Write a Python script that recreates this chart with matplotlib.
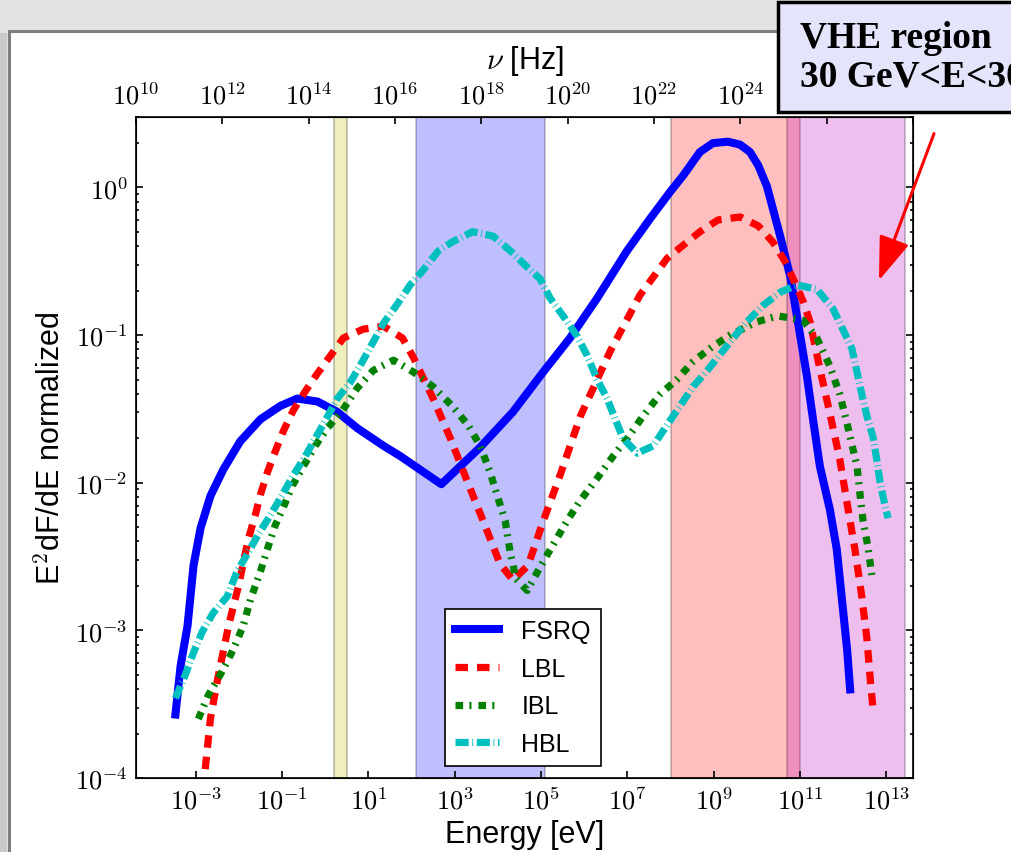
import numpy as np
import matplotlib
matplotlib.use('Agg')
import matplotlib.pyplot as plt
from matplotlib.patches import Rectangle, FancyArrowPatch
from matplotlib.ticker import FixedLocator, NullLocator, LogLocator, FuncFormatter

plt.rcParams['font.family'] = ['Liberation Sans', 'DejaVu Sans']
plt.rcParams['mathtext.fontset'] = 'cm'
plt.rcParams['lines.scale_dashes'] = False

H_EV = 4.135667e-15  # Planck constant [eV s]

# blazar SEDs: log10(E/eV), log10(E^2 dF/dE)
fsrq_logE = [-3.47, -3.35, -3.19, -3.05, -2.89, -2.66, -2.36, -1.97, -1.50, -1.04, -0.65,
             -0.18, 0.28, 0.74, 1.35, 1.74, 2.69, 3.59, 4.35, 5.05, 5.67, 6.30, 6.99, 7.53,
             7.99, 8.29, 8.68, 8.98, 9.33, 9.61, 9.84, 10.03, 10.23, 10.54, 10.77, 10.95, 11.16,
             11.30, 11.46, 11.69, 11.85, 11.97, 12.09, 12.16]
fsrq_logF = [-3.57, -3.24, -2.97, -2.56, -2.31, -2.09, -1.91, -1.72, -1.57, -1.48, -1.43,
             -1.45, -1.52, -1.63, -1.75, -1.82, -2.01, -1.76, -1.52, -1.25, -1.02, -0.75, -0.43, -0.21,
             -0.03, 0.08, 0.24, 0.30, 0.31, 0.29, 0.24, 0.15, 0.01, -0.33, -0.60, -0.91, -1.28,
             -1.57, -1.89, -2.18, -2.45, -2.79, -3.13, -3.40]

lbl_logE = [-2.78, -2.66, -2.48, -2.24, -2.01, -1.78, -1.62, -1.50, -1.34, -1.16, -0.97,
            -0.74, -0.46, -0.18, 0.12, 0.42, 0.88, 1.35, 1.79, 2.04, 2.50, 2.90, 3.29, 3.66,
            4.05, 4.35, 4.70, 5.05, 5.44, 5.91, 6.60, 7.29, 7.92, 8.68, 9.10, 9.61, 10.03,
            10.37, 10.65, 10.84, 11.07, 11.23, 11.46, 11.69, 11.92, 12.09, 12.27, 12.43, 12.55,
            12.64, 12.69]
lbl_logF = [-3.94, -3.60, -3.31, -2.97, -2.70, -2.38, -2.22, -2.08, -1.93, -1.79, -1.65,
            -1.51, -1.38, -1.26, -1.14, -1.02, -0.96, -0.94, -1.02, -1.15, -1.43, -1.70, -1.99, -2.26,
            -2.55, -2.66, -2.56, -2.26, -1.95, -1.55, -1.11, -0.73, -0.48, -0.30, -0.22, -0.20, -0.26,
            -0.37, -0.50, -0.62, -0.77, -0.91, -1.23, -1.53, -1.84, -2.14, -2.45, -2.77, -3.06,
            -3.38, -3.53]

ibl_logE = [-2.94, -2.71, -2.43, -2.13, -1.90, -1.73, -1.50, -1.34, -1.16, -0.99, -0.76,
            -0.51, -0.23, 0.05, 0.40, 0.74, 1.11, 1.58, 2.04, 2.50, 2.94, 3.31, 3.59, 3.82,
            4.01, 4.17, 4.29, 4.42, 4.68, 4.98, 5.26, 5.60, 5.91, 6.30, 6.67, 7.02, 7.36,
            7.76, 8.15, 8.52, 8.96, 9.38, 10.00, 10.49, 11.07, 11.39, 11.69, 11.92, 12.09,
            12.20, 12.32, 12.39, 12.46, 12.57, 12.67]
ibl_logF = [-3.60, -3.44, -3.30, -3.13, -2.97, -2.79, -2.60, -2.45, -2.29, -2.18, -2.02,
            -1.89, -1.75, -1.63, -1.51, -1.36, -1.24, -1.17, -1.25, -1.35, -1.48, -1.61, -1.75, -1.93,
            -2.11, -2.26, -2.48, -2.65, -2.73, -2.57, -2.43, -2.26, -2.12, -1.97, -1.82, -1.69, -1.55,
            -1.40, -1.30, -1.18, -1.08, -1.00, -0.91, -0.87, -0.90, -1.02, -1.21, -1.40, -1.60,
            -1.74, -1.89, -2.08, -2.26, -2.43, -2.64]

hbl_logE = [-3.47, -3.24, -3.05, -2.85, -2.59, -2.27, -2.04, -1.80, -1.55, -1.27, -0.99,
            -0.74, -0.46, -0.23, 0.00, 0.28, 0.58, 0.88, 1.35, 1.67, 1.97, 2.27, 2.62, 2.94,
            3.41, 3.89, 4.29, 4.68, 4.98, 5.21, 5.56, 5.84, 6.07, 6.30, 6.53, 6.72, 6.90,
            7.23, 7.60, 7.87, 8.22, 8.52, 8.85, 9.15, 9.45, 9.77, 10.14, 10.54, 10.93, 11.39,
            11.76, 11.99, 12.20, 12.32, 12.43, 12.55, 12.69, 12.78, 12.85, 12.97, 13.04]
hbl_logF = [-3.46, -3.30, -3.15, -3.01, -2.88, -2.77, -2.60, -2.48, -2.35, -2.22, -2.08,
            -1.95, -1.82, -1.70, -1.58, -1.43, -1.32, -1.17, -0.92, -0.79, -0.66, -0.56, -0.43, -0.37,
            -0.30, -0.33, -0.43, -0.54, -0.62, -0.75, -0.89, -1.01, -1.14, -1.30, -1.43, -1.57, -1.70,
            -1.80, -1.75, -1.63, -1.48, -1.35, -1.24, -1.13, -1.02, -0.91, -0.80, -0.71, -0.66, -0.69,
            -0.82, -0.96, -1.09, -1.25, -1.40, -1.55, -1.69, -1.85, -1.99, -2.16, -2.24]

# energy bands [eV]
band_names = ['optical', 'X-ray', 'HE', 'VHE']
band_lo = [1.63, 1.24e2, 1.0e8, 5.0e10]
band_hi = [3.25, 1.24e5, 1.0e11, 2.7e13]
band_colors = ['y', 'b', 'r', 'm']

W, H = 1011, 853
fig = plt.figure(figsize=(W / 100, H / 100), dpi=100, facecolor='#e3e3e3')

# slide background: white panel with grey frame
fig.add_artist(Rectangle((8.5 / W, -0.1), 1.2, (H - 32) / H + 0.1, transform=fig.transFigure,
                         facecolor='white', edgecolor='#7f7f7f', lw=2.2, zorder=0))
fig.add_artist(Rectangle((0, 0), 7 / W, (H - 34) / H, transform=fig.transFigure,
                         facecolor='#cacaca', edgecolor='none', zorder=0))

ax = fig.add_axes([136 / W, 74 / H, 777 / W, 661 / H])

for lo, hi, c in zip(band_lo, band_hi, band_colors):
    ax.axvspan(lo, hi, facecolor=c, edgecolor='k', lw=1.2, alpha=0.25)

line_kw = dict(solid_joinstyle='round', dash_joinstyle='round')
ax.plot(10 ** np.array(fsrq_logE), 10 ** np.array(fsrq_logF), color='b', lw=5.8,
        label='FSRQ', **line_kw)
ax.plot(10 ** np.array(lbl_logE), 10 ** np.array(lbl_logF), color='r', lw=5.2,
        dashes=(9, 6.5), label='LBL', **line_kw)
ax.plot(10 ** np.array(ibl_logE), 10 ** np.array(ibl_logF), color='g', lw=5.2,
        dashes=(5.5, 4.5, 1.5, 5), label='IBL', **line_kw)
ax.plot(10 ** np.array(hbl_logE), 10 ** np.array(hbl_logF), color='c', lw=5.2,
        dashes=(9.5, 2.6, 0.6, 2.6), label='HBL', **line_kw)

ax.set_xscale('log')
ax.set_yscale('log')
ax.set_xlim(1e10 * H_EV, 1e28 * H_EV)
ax.set_ylim(1e-4, 3)

pow_fmt = FuncFormatter(lambda v, p: r'$10^{%d}$' % int(round(np.log10(v))))
ax.xaxis.set_major_locator(FixedLocator(10.0 ** np.arange(-3, 14, 2)))
ax.xaxis.set_minor_locator(NullLocator())
ax.xaxis.set_major_formatter(pow_fmt)
ax.yaxis.set_major_locator(LogLocator(base=10, numticks=10))
ax.yaxis.set_minor_locator(LogLocator(base=10, subs=np.arange(2, 10), numticks=10))
ax.yaxis.set_major_formatter(pow_fmt)
ax.tick_params(which='both', direction='in', top=False, right=True, width=1.2, labelsize=19, pad=6)
ax.tick_params(which='major', length=5)
ax.tick_params(which='minor', length=2.5)
for s in ax.spines.values():
    s.set_linewidth(1.2)

ax.set_xlabel('Energy [eV]', fontsize=22, labelpad=4)
ax.set_ylabel('E$^2$dF/dE normalized', fontsize=22, labelpad=6)

# frequency axis on top (labels above 10^24 sit under the VHE box)
nu_ticks = 10.0 ** np.arange(10, 29, 2)
ax2 = ax.twiny()
ax2.set_xscale('log')
ax2.set_xlim(1e10, 1e28)
ax2.xaxis.set_major_locator(FixedLocator(nu_ticks))
ax2.xaxis.set_minor_locator(NullLocator())
ax2.xaxis.set_major_formatter(FuncFormatter(
    lambda v, p: r'$10^{%d}$' % int(round(np.log10(v))) if v < 1e25 else ''))
ax2.tick_params(direction='in', length=5, width=1.2, labelsize=19, pad=6)
ax2.set_xlabel(r'$\nu$ [Hz]', fontsize=22, labelpad=10)

leg = ax.legend(loc='lower left', bbox_to_anchor=(0.398, 0.018), borderaxespad=0,
                fontsize=18, handlelength=1.75, handletextpad=0.9, labelspacing=0.55,
                fancybox=False, framealpha=1, edgecolor='k')
leg.get_frame().set_linewidth(1.2)

# annotation box + arrow
fig.add_artist(Rectangle((778 / W, 1 - 113 / H), 0.3, 110 / H, transform=fig.transFigure,
                         facecolor='#e4e4fa', edgecolor='black', lw=2.5, zorder=5))
fig.text(800 / W, 1 - 38 / H, 'VHE region', family='Liberation Serif', weight='bold',
         fontsize=27, va='center', zorder=6)
fig.text(800 / W, 1 - 77 / H, '30 GeV<E<30 TeV', family='Liberation Serif', weight='bold',
         fontsize=27, va='center', zorder=6)
fig.add_artist(FancyArrowPatch((935 / W, 1 - 132 / H), (878 / W, 1 - 284 / H),
                               transform=fig.transFigure, arrowstyle='-|>,head_length=1.35,head_width=0.48',
                               mutation_scale=20, color='red', lw=2.2, zorder=6))

fig.savefig('out.png', dpi=100, facecolor=fig.get_facecolor())
